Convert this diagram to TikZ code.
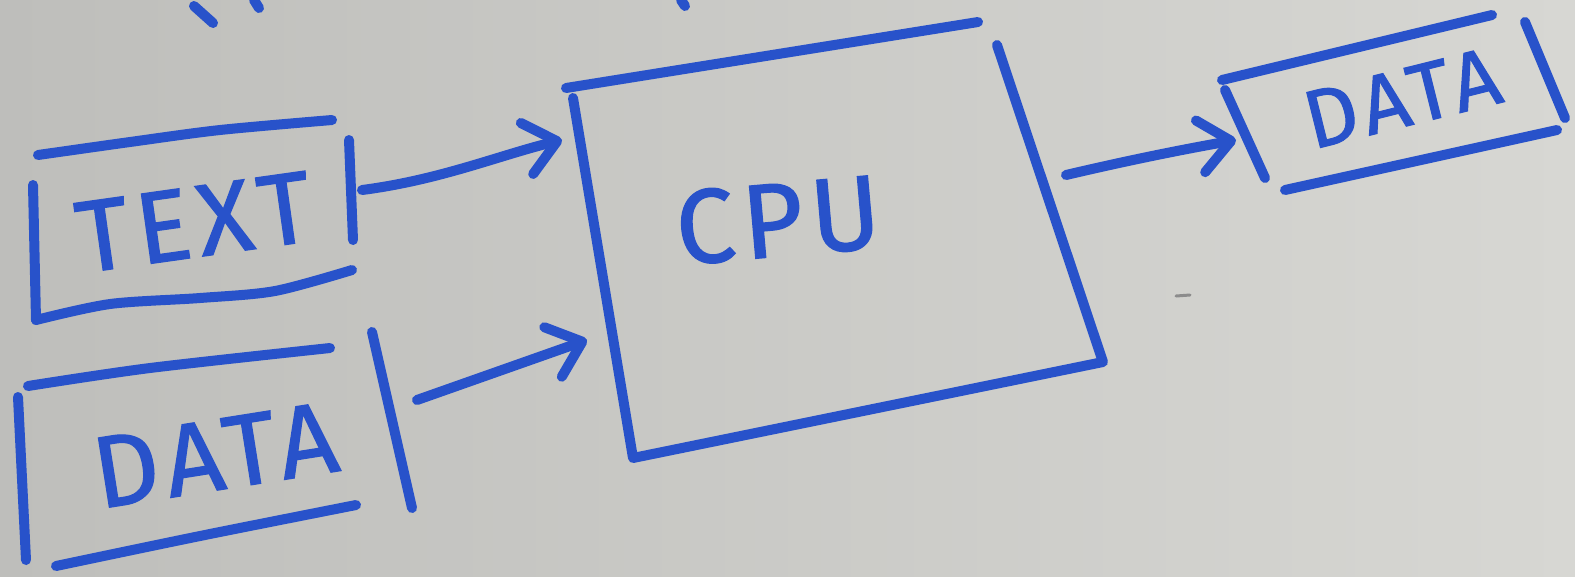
\documentclass[tikz,border=0pt]{standalone}
\usepackage{fontspec}
\setmainfont{Fira Sans}
\newfontfamily\inkfont{Fira Sans}[FakeBold=1.2, LetterSpace=7]
\usetikzlibrary{arrows.meta}
\definecolor{paperdark}{RGB}{190,190,187}
\definecolor{paperlight}{RGB}{215,215,211}
\definecolor{ink}{RGB}{40,82,202}
\tikzset{
  pen/.style={draw=ink, line width=0.2cm, line cap=round, line join=round},
  flow/.style={pen, -{Straight Barb[length=0.62cm, width=1.05cm, round]}},
  word/.style={text=ink, inner sep=0pt, font=\inkfont\fontsize{58}{58}\selectfont},
}
\begin{document}
\begin{tikzpicture}[x=0.02cm, y=-0.02cm]
  % paper
  \shade[left color=paperdark, right color=paperlight] (0,0) rectangle (1575,576);
  \useasboundingbox (0,0) rectangle (1575,576);

  % scraps of writing cut off at the top edge
  \draw[pen] (194,6) -- (213,23);
  \draw[pen] (254,0) -- (259,8);
  \draw[pen] (681,0) -- (685,6);
  % small pencil mark on the paper
  \draw[line width=0.06cm, line cap=round, draw=black!45] (1176,296) -- (1190,295);

  % labels
  \node[word, rotate=8]  (text)   at (194,222)  {TEXT};
  \node[word, rotate=9]  (datain) at (215,455)  {DATA};
  \node[word, rotate=5, font=\inkfont\fontsize{60}{60}\selectfont] (cpu) at (778,220) {CPU};
  \node[word, rotate=14, font=\inkfont\fontsize{47}{47}\selectfont] (dataout) at (1402,98) {DATA};

  % TEXT box
  \draw[pen] plot[smooth] coordinates {(38,155) (130,142) (220,130) (332,120)};
  \draw[pen] (33,185) -- (36,320);
  \draw[pen] plot[smooth] coordinates {(36,320) (110,304) (200,298) (275,291) (352,270)};
  \draw[pen] (349,140) -- (353,240);

  % DATA input box
  \draw[pen] plot[smooth] coordinates {(28,386) (150,368) (330,348)};
  \draw[pen] (18,397) -- (26,560);
  \draw[pen] plot[smooth] coordinates {(56,566) (200,536) (356,505)};
  \draw[pen] (372,332) -- (412,508);

  % CPU box
  \draw[pen] (566,88) -- (978,22);
  \draw[pen] (573,98) -- (633,458) -- (1103,362) -- (997,45);

  % DATA output box
  \draw[pen] (1222,80) -- (1492,15);
  \draw[pen] (1225,90) -- (1265,178);
  \draw[pen] (1525,22) -- (1565,118);
  \draw[pen] (1285,190) -- (1557,130);

  % connector end points
  \coordinate (text-out)   at (362,190);
  \coordinate (cpu-in1)    at (562,140);
  \coordinate (data-out)   at (417,400);
  \coordinate (cpu-in2)    at (587,340);
  \coordinate (cpu-out)    at (1066,175);
  \coordinate (result-in)  at (1236,140);

  % connectors
  \draw[flow] (text-out) .. controls (440,180) and (500,155) .. (cpu-in1);
  \draw[flow] (data-out) -- (cpu-in2);
  \draw[flow] (cpu-out) .. controls (1130,160) and (1180,150) .. (result-in);
\end{tikzpicture}
\end{document}
